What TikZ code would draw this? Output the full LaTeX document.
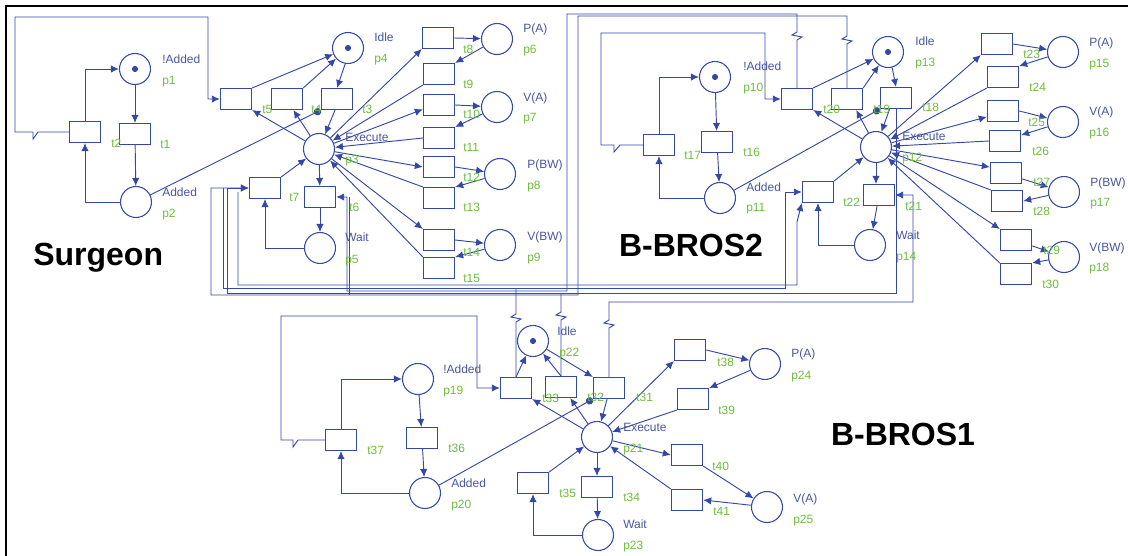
\documentclass[tikz,border=0pt]{standalone}
\usepackage{fontspec}
\setmainfont{Liberation Sans}
\usetikzlibrary{arrows.meta}
\definecolor{netblue}{RGB}{52,72,165}
\definecolor{lblblue}{RGB}{72,86,160}
\definecolor{lblgreen}{RGB}{108,190,60}
\begin{document}
\begin{tikzpicture}[x=0.75pt,y=-0.75pt,
  pl/.style={circle,draw=netblue,line width=0.8pt,minimum size=23.25pt,inner sep=0pt},
  tokpl/.style={pl,path picture={\fill[netblue] (path picture bounding box.center) circle (2.3pt);}},
  tr/.style={rectangle,draw=netblue,line width=0.8pt,minimum width=23.5pt,minimum height=15.75pt,inner sep=0pt},
  arc/.style={draw=netblue,line width=0.7pt,-{Latex[length=6pt,width=5.5pt]}},
  wire/.style={draw=netblue,line width=0.7pt},
  inh/.style={draw=netblue,line width=0.7pt,-{Circle[length=5.5pt]}},
  namelbl/.style={anchor=base west,inner sep=0pt,text=lblblue,font=\fontsize{9}{10}\selectfont},
  idlbl/.style={anchor=base west,inner sep=0pt,text=lblgreen,font=\fontsize{9}{10}\selectfont},
  biglbl/.style={inner sep=0pt,font=\fontsize{24}{26}\selectfont\bfseries}
]
\useasboundingbox (0,0) rectangle (1128,556);
\draw[black,line width=1.5pt] (6,556) -- (6,6) -- (1128,6);

% ---------------- Surgeon ----------------
\node[tokpl] (p1) at (135,69) {};
\node[pl] (p2) at (136,202) {};
\node[pl] (p3) at (319,149) {};
\node[tokpl] (p4) at (348,48) {};
\node[pl] (p5) at (320,248) {};
\node[pl] (p6) at (497,39) {};
\node[pl] (p7) at (497,107) {};
\node[pl] (p8) at (500,174) {};
\node[pl] (p9) at (500,245) {};
\node[tr] (t1) at (135,134) {};
\node[tr] (t2) at (85,132) {};
\node[tr] (t3) at (337,99) {};
\node[tr] (t4) at (287,99) {};
\node[tr] (t5) at (236,99) {};
\node[tr] (t6) at (320,197) {};
\node[tr] (t7) at (265,188) {};
\node[tr] (t8) at (438,38) {};
\node[tr] (t9) at (439,74) {};
\node[tr] (t10) at (439,105) {};
\node[tr] (t11) at (439,138) {};
\node[tr] (t12) at (439,167) {};
\node[tr] (t13) at (439,198) {};
\node[tr] (t14) at (439,240) {};
\node[tr] (t15) at (439,268) {};

\draw[arc] (p1) -- (t1);
\draw[arc] (t1) -- (p2);
\draw[arc] (p2.west) -| (t2.south);
\draw[arc] (t2.north) |- (p1.west);
\draw[arc] (t2.west) -- (38,132) -- (33,139) -- (33,132) -- (15,132) -- (15,17) -- (208,17) -- (208,99) -- (t5.west);
\draw[arc] (t5.north east) -- (p4);
\draw[arc] (t4.north east) -- (p4);
\draw[arc] (p4.-100) -- (t3.north);
\draw[arc] (t3.-100) -- (p3);
\draw[arc] (p3) -- (t5.south east);
\draw[arc] (p3) -- (t4.-60);
\draw[inh] (p2) -- (t3.south west);
\draw[arc] (p3) -- (t8.south west);
\draw[arc] (t9.south west) -- (p3);
\draw[arc] (p3) -- (t10.195);
\draw[arc] (t11.west) -- (p3);
\draw[arc] (p3) -- (t12.west);
\draw[arc] (t13.north west) -- (p3);
\draw[arc] (p3) -- (t14.north west);
\draw[arc] (t15.north west) -- (p3);
\draw[arc] (t8.east) -- (p6);
\draw[arc] (p6) -- (t9.north east);
\draw[arc] (t10.east) -- (p7);
\draw[arc] (p7) -- (t11.north east);
\draw[arc] (t12.east) -- (p8);
\draw[arc] (p8) -- (t13.north east);
\draw[arc] (t14.east) -- (p9);
\draw[arc] (p9) -- (t15.north east);
\draw[arc] (p3) -- (t6);
\draw[arc] (t6) -- (p5);
\draw[arc] (p5.west) -| (t7.south);
\draw[arc] (t7.north east) -- (p3);

% ---------------- B-BROS2 ----------------
\node[tokpl] (p10) at (715,77) {};
\node[pl] (p11) at (720,198) {};
\node[pl] (p12) at (876,147) {};
\node[tokpl] (p13) at (888,52) {};
\node[pl] (p14) at (870,245) {};
\node[pl] (p15) at (1063,52) {};
\node[pl] (p16) at (1063,122) {};
\node[pl] (p17) at (1064,192) {};
\node[pl] (p18) at (1064,257) {};
\node[tr] (t16) at (717,142) {};
\node[tr] (t17) at (659,145) {};
\node[tr] (t18) at (896,98) {};
\node[tr] (t19) at (847,99) {};
\node[tr] (t20) at (797,99) {};
\node[tr] (t21) at (879,195) {};
\node[tr] (t22) at (818,192) {};
\node[tr] (t23) at (997,44) {};
\node[tr] (t24) at (1003,77) {};
\node[tr] (t25) at (1003,111) {};
\node[tr] (t26) at (1005,141) {};
\node[tr] (t27) at (1006,173) {};
\node[tr] (t28) at (1007,201) {};
\node[tr] (t29) at (1016,240) {};
\node[tr] (t30) at (1016,274) {};

\draw[arc] (p10) -- (t16);
\draw[arc] (t16) -- (p11);
\draw[arc] (p11.west) -| (t17.south);
\draw[arc] (t17.north) |- (p10.west);
\draw[arc] (t17.west) -- (620,145) -- (614,152) -- (614,145) -- (601,145) -- (601,33) -- (765,33) -- (765,99) -- (t20.west);
\draw[arc] (t20.north east) -- (p13);
\draw[arc] (t19.north east) -- (p13);
\draw[arc] (p13.-75) -- (t18.north);
\draw[arc] (t18.-120) -- (p12);
\draw[arc] (p12) -- (t20.south east);
\draw[arc] (p12) -- (t19.-50);
\draw[inh] (p11) -- (t18.south west);
\draw[arc] (p12.south) -- (p12.south |- t21.north);
\draw[arc] (t21.-100) -- (p14);
\draw[arc] (p14.west) -| (t22.south);
\draw[arc] (t22.north east) -- (p12);
\draw[arc] (p12) -- (t23.south west);
\draw[arc] (t23.east) -- (p15);
\draw[arc] (p15) -- (t24.north east);
\draw[arc] (t24.south west) -- (p12);
\draw[arc] (p12) -- (t25.200);
\draw[arc] (t25.east) -- (p16);
\draw[arc] (p16) -- (t26.20);
\draw[arc] (t26.west) -- (p12);
\draw[arc] (p12) -- (t27.160);
\draw[arc] (t27.-20) -- (p17);
\draw[arc] (p17) -- (t28.east);
\draw[arc] (t28.north west) -- (p12);
\draw[arc] (p12) -- (t29.north west);
\draw[arc] (t29.-20) -- (p18);
\draw[arc] (p18) -- (t30.north east);
\draw[arc] (t30.north west) -- (p12);

% ---------------- B-BROS1 ----------------
\node[tokpl] (p22) at (533,341) {};
\node[pl] (p21) at (597,437) {};
\node[pl] (p19) at (418,379) {};
\node[pl] (p20) at (425,493) {};
\node[pl] (p23) at (598,535) {};
\node[pl] (p24) at (765,364) {};
\node[pl] (p25) at (767,507) {};
\node[tr] (t31) at (609,388) {};
\node[tr] (t32) at (561,387) {};
\node[tr] (t33) at (516,388) {};
\node[tr] (t34) at (597,487) {};
\node[tr] (t35) at (533,483) {};
\node[tr] (t36) at (422,438) {};
\node[tr] (t37) at (341,440) {};
\node[tr] (t38) at (690,350) {};
\node[tr] (t39) at (693,399) {};
\node[tr] (t40) at (687,455) {};
\node[tr] (t41) at (687,500) {};

\draw[arc] (p22) -- (t31.north west);
\draw[arc] (t33.north) -- (p22);
\draw[arc] (t32.north) -- (p22);
\draw[arc] (t31.-100) -- (p21);
\draw[arc] (p21) -- (t33.south east);
\draw[arc] (p21) -- (t32.-50);
\draw[inh] (p20) -- (t31.south west);
\draw[arc] (p19) -- (t36);
\draw[arc] (t36) -- (p20);
\draw[arc] (p20.west) -| (t37.south);
\draw[arc] (t37.north) |- (p19.west);
\draw[arc] (t37.west) -- (298,440) -- (293,447) -- (293,440) -- (281,440) -- (281,316) -- (477,316) -- (477,388) -- (t33.west);
\draw[arc] (p21) -- (t34);
\draw[arc] (t34) -- (p23);
\draw[arc] (p23.west) -| (t35.south);
\draw[arc] (t35.north east) -- (p21);
\draw[arc] (p21) -- (t38.south west);
\draw[arc] (t38.east) -- (p24);
\draw[arc] (p24) -- (t39.north east);
\draw[arc] (t39.south west) -- (p21);
\draw[arc] (p21) -- (t40.west);
\draw[arc] (t40.south east) -- (p25);
\draw[arc] (p25) -- (t41.east);
\draw[arc] (t41.north west) -- (p21);

% ---------------- cross-net wiring ----------------
\coordinate (s1) at (238,192);
\coordinate (s2) at (223,188);
\coordinate (s3) at (349,197);
\draw[arc] (t19.north) -- (847,44) -- ++(5,-3) -- ++(-10,-2) -- ++(5,-3) -- (847,16) -- (578,16) -- (578,295) -- (211,295) -- (211,188) -- (t7.west);
\draw[arc] (t20.north) -- (797,40) -- ++(5,-3) -- ++(-10,-2) -- ++(5,-3) -- (797,14) -- (567,14) -- (567,291) -- (347,291) -- (347,197) -- (t6.east);
\draw[arc] (t18.south) -- (896,293) -- (227,293) -- (227,188) -- (t7.west);
\draw[wire] (t32.north) -- (561,320) -- ++(5,-3) -- ++(-10,-2) -- ++(5,-3) -- (561,293);
\draw[arc] (s1) -- (238,285) -- (797,285) -- (797,222) -- (t22.south west);
\draw[arc] (s2) -- (223,288) -- (785,288) -- (785,192) -- (t22.west);
\draw[wire] (t33.north) -- (516,322) -- ++(5,-3) -- ++(-10,-2) -- ++(5,-3) -- (516,288);
\draw[arc] (t31.north) -- (609,328) -- ++(5,-3) -- ++(-10,-2) -- ++(5,-3) -- (609,302) -- (913,302) -- (913,195) -- (t21.east);
\draw[wire] (s3) -- (349,295);

% ---------------- labels ----------------
\node[namelbl] (a1) at (162,64) {!Added};
\node[idlbl] (a2) at (162,85) {p1};
\node[idlbl] (a3) at (111,148) {t2};
\node[idlbl] (a4) at (160,149) {t1};
\node[namelbl] (a5) at (162,197) {Added};
\node[idlbl] (a6) at (162,218) {p2};
\node[namelbl] (a7) at (374,42) {Idle};
\node[idlbl] (a8) at (374,63) {p4};
\node[idlbl] (a9) at (262,114) {t5};
\node[idlbl] (a10) at (311,114) {t4};
\node[idlbl] (a11) at (362,114) {t3};
\node[namelbl] (a12) at (345,142) {Execute};
\node[idlbl] (a13) at (345,164) {p3};
\node[idlbl] (a14) at (289,202) {t7};
\node[idlbl] (a15) at (349,212) {t6};
\node[namelbl] (a16) at (345,242) {Wait};
\node[idlbl] (a17) at (345,263) {p5};
\node[namelbl] (a18) at (523,33) {P(A)};
\node[idlbl] (a19) at (523,54) {p6};
\node[namelbl] (a20) at (523,102) {V(A)};
\node[idlbl] (a21) at (523,122) {p7};
\node[namelbl] (a22) at (527,169) {P(BW)};
\node[idlbl] (a23) at (527,190) {p8};
\node[namelbl] (a24) at (527,240) {V(BW)};
\node[idlbl] (a25) at (527,261) {p9};
\node[idlbl] (a26) at (463,54) {t8};
\node[idlbl] (a27) at (463,89) {t9};
\node[idlbl] (a28) at (463,119) {t10};
\node[idlbl] (a29) at (463,152) {t11};
\node[idlbl] (a30) at (463,181) {t12};
\node[idlbl] (a31) at (463,212) {t13};
\node[idlbl] (a32) at (463,256) {t14};
\node[idlbl] (a33) at (463,282) {t15};

\node[namelbl] (b1) at (743,71) {!Added};
\node[idlbl] (b2) at (743,92) {p10};
\node[idlbl] (b3) at (684,160) {t17};
\node[idlbl] (b4) at (743,157) {t16};
\node[namelbl] (b5) at (746,192) {Added};
\node[idlbl] (b6) at (746,212) {p11};
\node[idlbl] (b7) at (823,114) {t20};
\node[idlbl] (b8) at (873,114) {t19};
\node[idlbl] (b9) at (922,112) {t18};
\node[namelbl] (b10) at (915,46) {Idle};
\node[idlbl] (b11) at (915,67) {p13};
\node[namelbl] (b12) at (902,141) {Execute};
\node[idlbl] (b13) at (902,162) {p12};
\node[idlbl] (b14) at (843,206) {t22};
\node[idlbl] (b15) at (905,210) {t21};
\node[namelbl] (b16) at (896,239) {Wait};
\node[idlbl] (b17) at (896,260) {p14};
\node[namelbl] (b18) at (1089,47) {P(A)};
\node[idlbl] (b19) at (1089,68) {p15};
\node[namelbl] (b20) at (1089,116) {V(A)};
\node[idlbl] (b21) at (1089,137) {p16};
\node[namelbl] (b22) at (1090,186) {P(BW)};
\node[idlbl] (b23) at (1090,207) {p17};
\node[namelbl] (b24) at (1089,251) {V(BW)};
\node[idlbl] (b25) at (1089,272) {p18};
\node[idlbl] (b26) at (1023,59) {t23};
\node[idlbl] (b27) at (1029,92) {t24};
\node[idlbl] (b28) at (1028,127) {t25};
\node[idlbl] (b29) at (1032,156) {t26};
\node[idlbl] (b30) at (1033,187) {t27};
\node[idlbl] (b31) at (1033,215) {t28};
\node[idlbl] (b32) at (1043,254) {t29};
\node[idlbl] (b33) at (1042,288) {t30};

\node[namelbl] (c1) at (557,335) {Idle};
\node[idlbl] (c2) at (559,356) {p22};
\node[namelbl] (c3) at (443,373) {!Added};
\node[idlbl] (c4) at (443,394) {p19};
\node[idlbl] (c5) at (367,454) {t37};
\node[idlbl] (c6) at (448,452) {t36};
\node[namelbl] (c7) at (451,487) {Added};
\node[idlbl] (c8) at (451,508) {p20};
\node[idlbl] (c9) at (542,402) {t33};
\node[idlbl] (c10) at (587,401) {t32};
\node[idlbl] (c11) at (636,401) {t31};
\node[namelbl] (c12) at (623,431) {Execute};
\node[idlbl] (c13) at (623,452) {p21};
\node[idlbl] (c14) at (559,497) {t35};
\node[idlbl] (c15) at (623,501) {t34};
\node[namelbl] (c16) at (623,528) {Wait};
\node[idlbl] (c17) at (623,549) {p23};
\node[idlbl] (c18) at (717,366) {t38};
\node[idlbl] (c19) at (718,414) {t39};
\node[idlbl] (c20) at (712,470) {t40};
\node[idlbl] (c21) at (713,515) {t41};
\node[namelbl] (c22) at (791,357) {P(A)};
\node[idlbl] (c23) at (791,379) {p24};
\node[namelbl] (c24) at (793,502) {V(A)};
\node[idlbl] (c25) at (793,523) {p25};

\node[biglbl,anchor=base west] (surg) at (33,265) {Surgeon};
\node[biglbl,anchor=base] (bb2) at (691,256) {B-BROS2};
\node[biglbl,anchor=base] (bb1) at (903,445) {B-BROS1};
\end{tikzpicture}
\end{document}
